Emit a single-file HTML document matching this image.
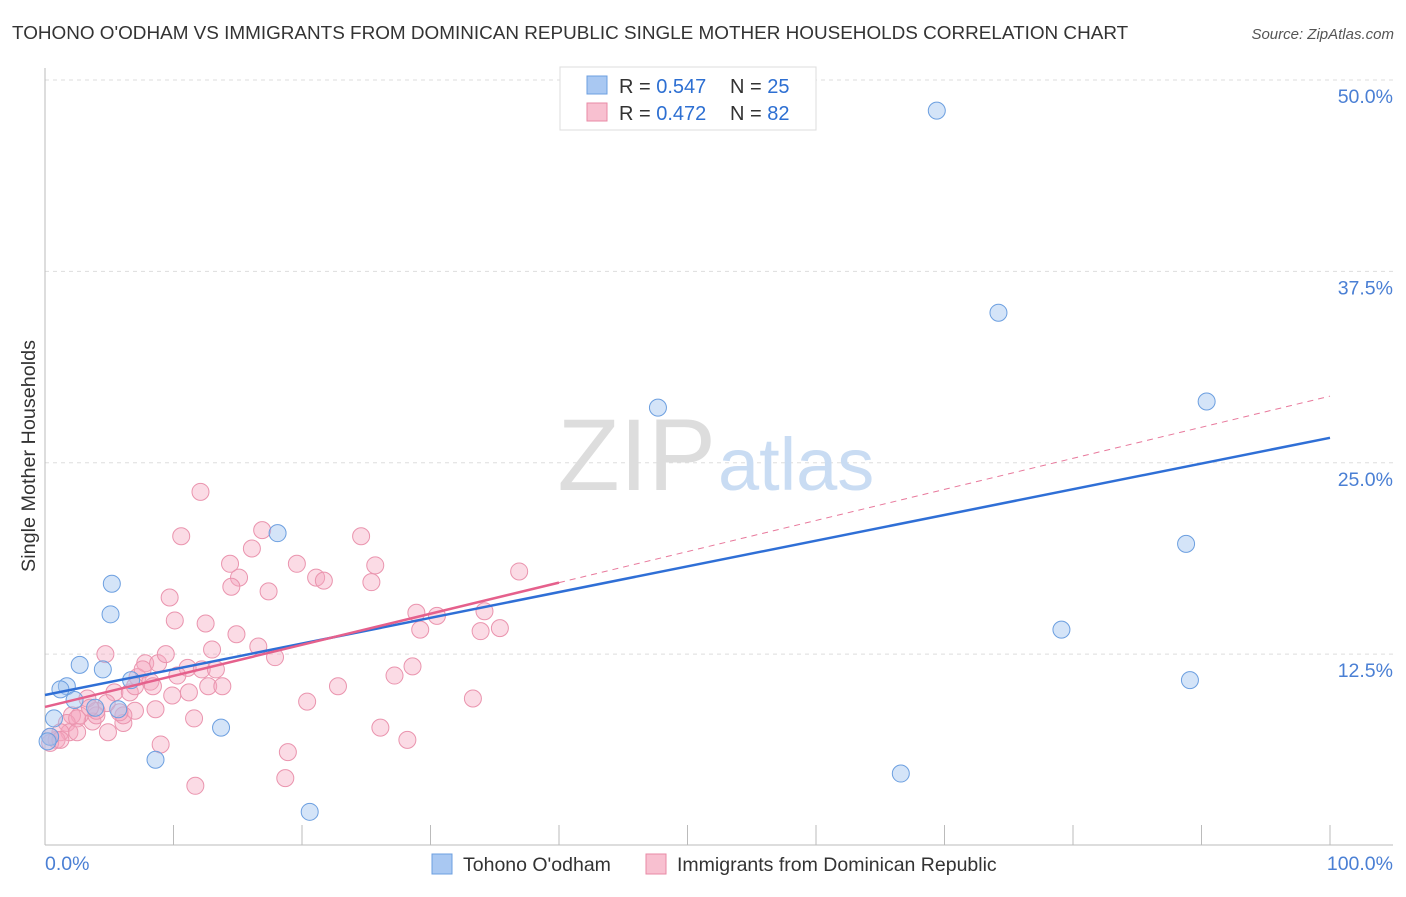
<!DOCTYPE html>
<html><head><meta charset="utf-8"><style>
body{margin:0;background:#fff;font-family:"Liberation Sans",sans-serif;}
svg text{font-family:"Liberation Sans",sans-serif;}
</style></head><body>
<svg width="1406" height="892">
<text x="12" y="39" font-size="18.9" fill="#333">TOHONO O'ODHAM VS IMMIGRANTS FROM DOMINICAN REPUBLIC SINGLE MOTHER HOUSEHOLDS CORRELATION CHART</text>
<text x="1394" y="39" font-size="15" fill="#555" font-style="italic" text-anchor="end">Source: ZipAtlas.com</text>
<g id="grid"></g>
<text x="716" y="490" font-size="102" font-family="Liberation Serif" fill="#ddd" text-anchor="end">ZIP</text>
<text x="718" y="490" font-size="74" fill="#c9dcf3">atlas</text>
<g id="pts"></g>
<g id="lines"></g>
<text x="35" y="456" font-size="19.8" fill="#333" text-anchor="middle" transform="rotate(-90 35 456)">Single Mother Households</text>
<text x="45" y="870" font-size="19.5" fill="#4a7fd4">0.0%</text>
<text x="1393" y="870" font-size="19.5" fill="#4a7fd4" text-anchor="end">100.0%</text>
<g>
<rect x="560" y="67" width="256" height="63" fill="#fff" stroke="#ddd"/>
<rect x="587" y="76" width="20" height="18" fill="#a9c8f2" stroke="#6c9fe0"/>
<rect x="587" y="103" width="20" height="18" fill="#f8c0d0" stroke="#e88aa6"/>
<text x="619" y="93" font-size="20" fill="#333">R = <tspan fill="#2d6fd2">0.547</tspan></text>
<text x="730" y="93" font-size="20" fill="#333">N = <tspan fill="#2d6fd2">25</tspan></text>
<text x="619" y="120" font-size="20" fill="#333">R = <tspan fill="#2d6fd2">0.472</tspan></text>
<text x="730" y="120" font-size="20" fill="#333">N = <tspan fill="#2d6fd2">82</tspan></text>
</g>
<g>
<rect x="432" y="854" width="20" height="20" fill="#a9c8f2" stroke="#6c9fe0"/>
<text x="463" y="871" font-size="19.5" fill="#333">Tohono O'odham</text>
<rect x="646" y="854" width="20" height="20" fill="#f8c0d0" stroke="#e88aa6"/>
<text x="677" y="871" font-size="19.5" fill="#333">Immigrants from Dominican Republic</text>
</g>
</svg>
<script>
const yTicks=[12.5,25,37.5,50];
const yTickLabels=["12.5%","25.0%","37.5%","50.0%"];
const xTicks=[0,10,20,30,40,50,60,70,80,90,100];
const blueX=[69.4,74.2,90.4,47.7,88.8,18.1,79.1,89.1,66.6,20.6,5.2,5.1,2.7,4.5,1.7,1.2,2.3,3.9,5.7,0.7,13.7,8.6,0.4,0.2,6.7];
const blueY=[48.0,34.8,29.0,28.6,19.7,20.4,14.1,10.8,4.7,2.2,17.1,15.1,11.8,11.5,10.4,10.2,9.5,9.0,8.9,8.3,7.7,5.6,7.1,6.8,10.8];
const pinkX=[12.1,10.6,16.9,16.1,24.6,14.4,15.1,14.5,19.6,21.1,21.7,25.7,25.4,36.9,17.4,9.7,10.1,12.5,14.9,13.0,16.6,17.9,4.7,28.9,30.5,29.2,34.2,33.9,35.4,7.8,8.8,9.4,11.1,12.2,13.3,10.3,7.2,8.2,8.4,5.4,6.6,9.9,11.2,12.7,13.8,22.8,27.2,28.6,33.3,20.4,8.6,7.0,11.6,26.1,28.2,9.0,18.9,18.7,11.7,4.9,6.1,6.1,3.7,4.0,3.3,2.7,2.1,1.7,1.9,1.2,0.9,0.4,0.4,4.8,2.5,5.8,4.0,1.2,7.6,3.5,7.0,2.5];
const pinkY=[23.1,20.2,20.6,19.4,20.2,18.4,17.5,16.9,18.4,17.5,17.3,18.3,17.2,17.9,16.6,16.2,14.7,14.5,13.8,12.8,13.0,12.3,12.5,15.2,15.0,14.1,15.3,14.0,14.2,11.9,11.9,12.5,11.6,11.5,11.5,11.1,11.0,10.7,10.4,10.0,10.0,9.8,10.0,10.4,10.4,10.4,11.1,11.7,9.6,9.4,8.9,8.8,8.3,7.7,6.9,6.6,6.1,4.4,3.9,7.4,8.0,8.5,8.1,8.5,9.6,8.5,8.5,8.0,7.4,7.4,6.9,6.7,7.1,9.3,8.3,8.7,8.8,6.9,11.5,9.0,10.4,7.4];
const blueFit=[9.83,0.168];
const pinkFit=[9.05,0.203];
const pinkSolidEnd=40;
const X=v=>45+v*12.85, Y=v=>845.5-v*15.31;
const NS="http://www.w3.org/2000/svg";
function mk(t,a,p){const e=document.createElementNS(NS,t);for(const k in a)e.setAttribute(k,a[k]);p.appendChild(e);return e;}
const g=document.getElementById('grid');
yTicks.forEach((t,i)=>{
 const l=mk('line',{x1:45,x2:1393,y1:Y(t),y2:Y(t),stroke:'#ddd','stroke-dasharray':'4,4'},g);
 
 
 const tx=mk('text',{x:1393,y:Y(t)+23,'font-size':19.5,fill:'#4a7fd4','text-anchor':'end'},g);
 tx.textContent=yTickLabels[i];
 
 
});
const ax=mk('line',{x1:45,x2:1393,y1:845,y2:845,stroke:'#bbb'},g);


const ay=mk('line',{x1:45,x2:45,y1:68,y2:845,stroke:'#bbb'},g);


xTicks.forEach(t=>{const l=mk('line',{x1:X(t),x2:X(t),y1:825,y2:845,stroke:'#bbb'},g);
 
 });
const p=document.getElementById('pts');
pinkX.forEach((x,i)=>{const c=mk('circle',{cx:X(x),cy:Y(pinkY[i]),r:8.5,fill:'rgba(245,165,190,0.4)',stroke:'#ea94ae','stroke-width':1},p);
 
 });
blueX.forEach((x,i)=>{const c=mk('circle',{cx:X(x),cy:Y(blueY[i]),r:8.5,fill:'rgba(160,196,240,0.45)',stroke:'#6c9fe0','stroke-width':1},p);
 
 });
const L=document.getElementById('lines');
const f=(fit,x)=>fit[0]+fit[1]*x;
const bl=mk('line',{x1:X(0),y1:Y(f(blueFit,0)),x2:X(100),y2:Y(f(blueFit,100)),stroke:'#2f6fd6','stroke-width':2.5},L);


const pd=mk('line',{x1:X(pinkSolidEnd),y1:Y(f(pinkFit,pinkSolidEnd)),x2:X(100),y2:Y(f(pinkFit,100)),stroke:'#e8799c','stroke-width':1,'stroke-dasharray':'6,5'},L);


const pl=mk('line',{x1:X(0),y1:Y(f(pinkFit,0)),x2:X(pinkSolidEnd),y2:Y(f(pinkFit,pinkSolidEnd)),stroke:'#e5608c','stroke-width':2.5},L);


</script>
</body></html>
